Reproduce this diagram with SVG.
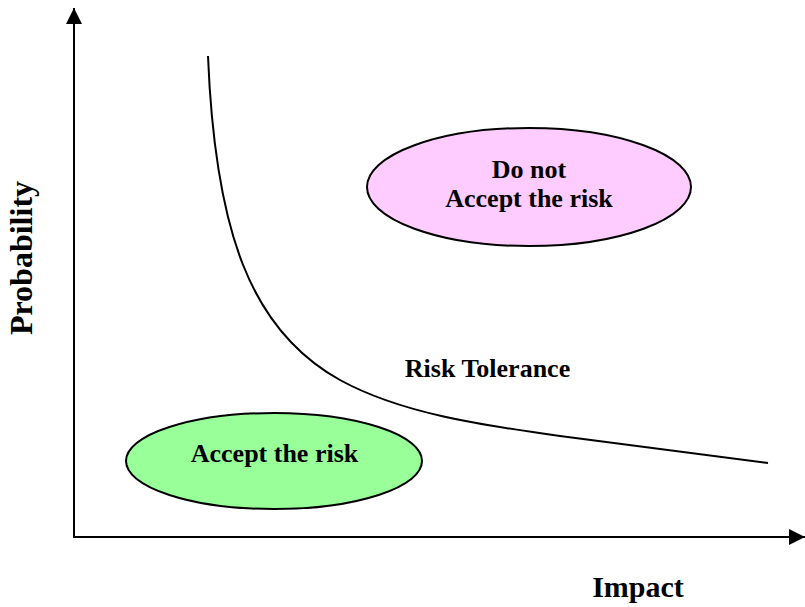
<svg xmlns="http://www.w3.org/2000/svg" width="805" height="607" viewBox="0 0 805 607">
  <style>
    .lbl { font-family: "Liberation Serif", "Times New Roman", serif; font-weight: bold; fill: #000; text-anchor: middle; }
    .node ellipse { stroke: #000; stroke-width: 2; }
    .axis { stroke: #000; stroke-width: 2; fill: none; }
  </style>
  <defs>
    <marker id="arrow" viewBox="0 0 16 16" refX="16" refY="8" markerWidth="16" markerHeight="16" markerUnits="userSpaceOnUse" orient="auto">
      <path d="M0,0 L16,8 L0,16 Z" fill="#000"/>
    </marker>
  </defs>
  <rect width="805" height="607" fill="#fff"/>

  <g id="connectors">
    <line class="axis" x1="74" y1="538" x2="74" y2="8" marker-end="url(#arrow)"/>
    <line class="axis" x1="74" y1="537" x2="805" y2="537" marker-end="url(#arrow)"/>
    <path id="risk-tolerance-curve" class="axis" d="M208,56 C215,230 250,330 340,380 C400,413 480,425 560,436 C650,448 710,455 768,463"/>
  </g>

  <g id="do-not-accept" class="node">
    <ellipse cx="529" cy="187" rx="162" ry="59" fill="#ffccff"/>
    <text class="lbl" x="529" y="178" font-size="26">Do not</text>
    <text class="lbl" x="529" y="207" font-size="26">Accept the risk</text>
  </g>

  <g id="accept" class="node">
    <ellipse cx="274" cy="461" rx="148" ry="48" fill="#99ff99"/>
    <text class="lbl" x="274.5" y="462" font-size="26">Accept the risk</text>
  </g>

  <g id="labels">
    <text class="lbl" x="487.5" y="377" font-size="26">Risk Tolerance</text>
    <text class="lbl" x="638" y="597" font-size="30">Impact</text>
    <text class="lbl" transform="translate(32,258) rotate(-90)" font-size="32">Probability</text>
  </g>
</svg>
